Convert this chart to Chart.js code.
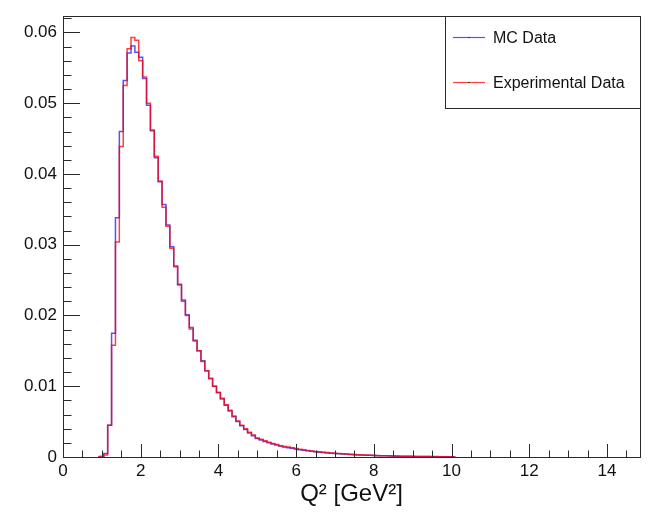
<!DOCTYPE html>
<html>
<head>
<meta charset="utf-8">
<script src="https://cdn.jsdelivr.net/npm/chart.js@4.4.0/dist/chart.umd.min.js"></script>
<style>
  html, body { margin: 0; padding: 0; background: #fff; }
</style>
</head>
<body>
<canvas id="chart" width="648" height="512"></canvas>
<script>
// Q^2 bin centres (bin width 0.1 GeV^2)
const q2Bins = [
  0.9, 1.0, 1.1, 1.2, 1.3, 1.4, 1.5, 1.6, 1.7, 1.8, 1.9,
  2.0, 2.1, 2.2, 2.3, 2.4, 2.5, 2.6, 2.7, 2.8, 2.9,
  3.0, 3.1, 3.2, 3.3, 3.4, 3.5, 3.6, 3.7, 3.8, 3.9,
  4.0, 4.1, 4.2, 4.3, 4.4, 4.5, 4.6, 4.7, 4.8, 4.9,
  5.0, 5.1, 5.2, 5.3, 5.4, 5.5, 5.6, 5.7, 5.8, 5.9,
  6.0, 6.1, 6.2, 6.3, 6.4, 6.5, 6.6, 6.7, 6.8, 6.9,
  7.0, 7.1, 7.2, 7.3, 7.4, 7.5, 7.6, 7.7, 7.8, 7.9,
  8.0, 8.1, 8.2, 8.3, 8.4, 8.5, 8.6, 8.7, 8.8, 8.9,
  9.0, 9.1, 9.2, 9.3, 9.4, 9.5, 9.6, 9.7, 9.8, 9.9,
  10.0, 10.1
];

// normalised counts per bin
const mcData = [
  0, 0, 0.0005, 0.0045, 0.0175, 0.0338, 0.0460, 0.0532, 0.0571, 0.0581, 0.0572,
  0.0565, 0.0535, 0.0497, 0.0461, 0.0423, 0.0389, 0.0357, 0.0328, 0.0297, 0.0270,
  0.0244, 0.0222, 0.0201, 0.0183, 0.0165, 0.0150, 0.0136, 0.0122, 0.0111, 0.0100,
  0.0091, 0.0082, 0.0073, 0.0065, 0.0057, 0.0050, 0.0044, 0.0039, 0.0034, 0.0030,
  0.0026, 0.0024, 0.0022, 0.0020, 0.00185, 0.0017, 0.00155, 0.00143, 0.00132, 0.00122,
  0.00112, 0.00103, 0.00095, 0.00087, 0.0008, 0.00074, 0.00068, 0.00062, 0.00057, 0.00053,
  0.00049, 0.00045, 0.00041, 0.00038, 0.00035, 0.00032, 0.00029, 0.00027, 0.00025, 0.00023,
  0.00021, 0.00019, 0.00017, 0.00016, 0.00014, 0.00013, 0.00012, 0.00011, 0.0001, 0.00009,
  0.00008, 0.00007, 0.00007, 0.00006, 0.00006, 0.00005, 0.00005, 0.00004, 0.00004, 0.00004,
  0.00003, 0
];

const expData = [
  0, 0.0001, 0.0003, 0.0045, 0.0158, 0.0304, 0.0439, 0.0525, 0.0577, 0.0593, 0.0589,
  0.0560, 0.0537, 0.0500, 0.0462, 0.0425, 0.0390, 0.0353, 0.0326, 0.0295, 0.0269,
  0.0243, 0.0220, 0.0200, 0.0181, 0.0164, 0.0150, 0.0135, 0.0122, 0.0111, 0.0100,
  0.0091, 0.0083, 0.0074, 0.0066, 0.0058, 0.0051, 0.0045, 0.0040, 0.0035, 0.0031,
  0.0027, 0.0025, 0.0023, 0.0021, 0.0019, 0.00175, 0.0016, 0.0015, 0.0014, 0.0013,
  0.0012, 0.0011, 0.00101, 0.00093, 0.00086, 0.00079, 0.00073, 0.00067, 0.00062, 0.00057,
  0.00053, 0.00049, 0.00045, 0.00041, 0.00038, 0.00035, 0.00032, 0.0003, 0.00027, 0.00025,
  0.00023, 0.00021, 0.00019, 0.00017, 0.00016, 0.00014, 0.00013, 0.00012, 0.00011, 0.0001,
  0.00009, 0.00008, 0.00008, 0.00007, 0.00007, 0.00006, 0.00006, 0.00005, 0.00005, 0.00005,
  0.00004, 0
];

const xTicks = [0, 2, 4, 6, 8, 10, 12, 14];
const yTicks = [0, 0.01, 0.02, 0.03, 0.04, 0.05, 0.06];
const seriesNames = ["MC Data", "Experimental Data"];

const FONT = '"Liberation Sans", Arial, sans-serif';
const blue = "rgba(40,40,255,0.8)";
const red = "rgba(255,0,0,0.75)";

// frame + inward ticks, ROOT style
const framePlugin = {
  id: "frame",
  afterDatasetsDraw(chart) {
    const { ctx, chartArea: a, scales } = chart;
    const xs = scales.x, ys = scales.y;
    ctx.save();
    ctx.strokeStyle = "#2a2a2a";
    ctx.lineWidth = 1;
    ctx.strokeRect(Math.round(a.left) + 0.5, Math.round(a.top) + 0.5,
      Math.round(a.right - a.left), Math.round(a.bottom - a.top));

    ctx.beginPath();
    for (let v = 0; v <= xs.max + 1e-9; v += 0.5) {
      const px = Math.round(xs.getPixelForValue(v)) + 0.5;
      const len = Math.abs(v % 2) < 1e-6 ? 13 : 6.5;
      ctx.moveTo(px, a.bottom);
      ctx.lineTo(px, a.bottom - len);
    }
    for (let i = 0; i <= 31; i++) {
      const v = i * 0.002;
      if (v > ys.max) break;
      const py = Math.round(ys.getPixelForValue(v)) + 0.5;
      const len = i % 5 === 0 ? 17 : 8.5;
      ctx.moveTo(a.left, py);
      ctx.lineTo(a.left + len, py);
    }
    ctx.stroke();
    ctx.restore();
  },
  afterDraw(chart) {
    const { ctx, chartArea: a } = chart;
    const box = { x: 445.5, y: Math.round(a.top) + 0.5, w: 195, h: 92 };
    ctx.save();
    ctx.fillStyle = "#fff";
    ctx.fillRect(box.x, box.y, box.w, box.h);
    ctx.strokeStyle = "#2a2a2a";
    ctx.lineWidth = 1;
    ctx.strokeRect(box.x, box.y, box.w, box.h);

    const rows = [
      { name: seriesNames[0], color: blue, y: 37.5 },
      { name: seriesNames[1], color: red, y: 82.5 }
    ];
    ctx.font = "16px " + FONT;
    ctx.textBaseline = "middle";
    rows.forEach(r => {
      ctx.strokeStyle = r.color;
      ctx.lineWidth = 1.2;
      ctx.beginPath();
      ctx.moveTo(453, r.y);
      ctx.lineTo(485, r.y);
      ctx.stroke();
      ctx.fillStyle = "#333";
      ctx.fillRect(468, r.y - 0.5, 2, 1);
      ctx.fillStyle = "#111";
      ctx.fillText(r.name, 493, r.y + 1);
    });
    ctx.restore();
  }
};

const toPoints = vals => q2Bins.map((q, i) => ({ x: q, y: vals[i] }));

new Chart(document.getElementById("chart").getContext("2d"), {
  type: "line",
  data: {
    datasets: [
      {
        label: seriesNames[0],
        data: toPoints(mcData),
        borderColor: blue,
        borderWidth: 1.5,
        stepped: "middle",
        pointRadius: 0,
        fill: false,
        order: 2
      },
      {
        label: seriesNames[1],
        data: toPoints(expData),
        borderColor: red,
        borderWidth: 1.5,
        stepped: "middle",
        pointRadius: 0,
        fill: false,
        order: 1
      }
    ]
  },
  options: {
    responsive: false,
    animation: false,
    layout: { padding: { top: 12, right: 8, left: 0, bottom: 0 } },
    plugins: {
      legend: { display: false },
      tooltip: { enabled: false }
    },
    scales: {
      x: {
        type: "linear",
        min: 0,
        max: 14.85,
        afterFit: s => { s.height = 55; },
        afterBuildTicks: s => { s.ticks = xTicks.map(v => ({ value: v })); },
        grid: { display: false, drawTicks: false },
        border: { display: false },
        ticks: {
          padding: 4,
          maxRotation: 0,
          color: "#111",
          font: { family: FONT, size: 17 }
        },
        title: {
          display: true,
          text: "Q\u00B2 [GeV\u00B2]",
          color: "#111",
          font: { family: FONT, size: 24 },
          padding: { top: 0, bottom: 3 }
        }
      },
      y: {
        min: 0,
        max: 0.0623,
        afterFit: s => { s.width = 63; },
        afterBuildTicks: s => { s.ticks = yTicks.map(v => ({ value: v })); },
        grid: { display: false, drawTicks: false },
        border: { display: false },
        ticks: {
          padding: 6,
          color: "#111",
          font: { family: FONT, size: 17 }
        }
      }
    }
  },
  plugins: [framePlugin]
});
</script>
</body>
</html>
